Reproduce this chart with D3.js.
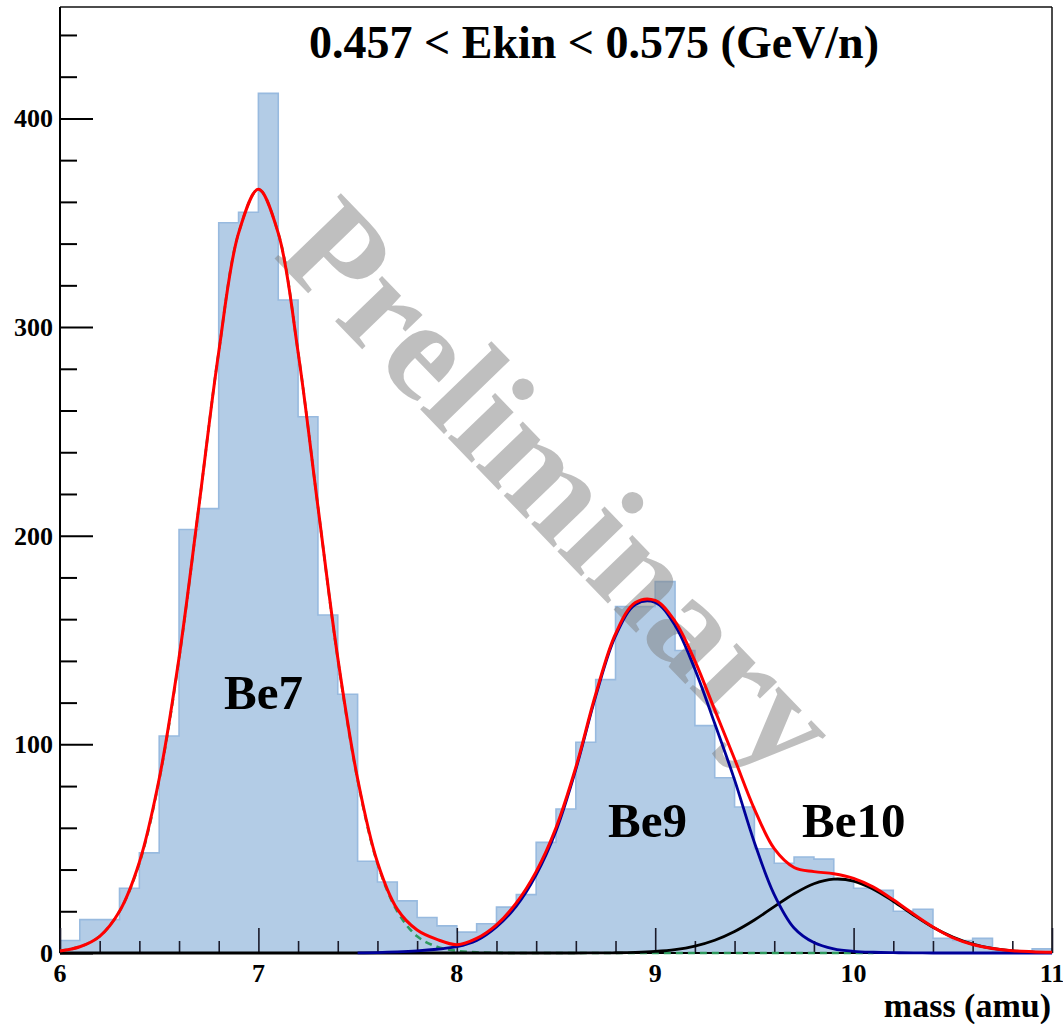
<!DOCTYPE html>
<html><head><meta charset="utf-8">
<script src="https://cdn.jsdelivr.net/npm/d3@7"></script>
<style>
body{margin:0;background:#fff}
svg{display:block}
text{font-family:"Liberation Serif","Times New Roman",serif;font-weight:bold}
</style>
</head><body><svg id="c" width="1063" height="1024"></svg>
<script>
// ---- data ----
const binLow = [6.0,6.1,6.2,6.3,6.4,6.5,6.6,6.7,6.8,6.9,7.0,7.1,7.2,7.3,7.4,7.5,7.6,7.7,7.8,7.9,
                8.0,8.1,8.2,8.3,8.4,8.5,8.6,8.7,8.8,8.9,9.0,9.1,9.2,9.3,9.4,9.5,9.6,9.7,9.8,9.9,
                10.0,10.1,10.2,10.3,10.4,10.5,10.6,10.7,10.8,10.9];
const binCounts = [6,16,16,31,48,104,203,213,350,355,412,313,257,162,124,44,34,25,17,13,
                   10,14,22,28,53,69,101,131,166,166,178,145,109,84,70,50,43,46,45,35,
                   31,30,20,21,7,6,7,1,0,2];
const binWidth = 0.1;

const fitMass = [6.0,6.1,6.2,6.3,6.4,6.5,6.6,6.7,6.8,6.9,7.0,7.1,7.2,7.3,7.4,7.5,7.6,7.7,7.8,7.9,
                 8.0,8.1,8.2,8.3,8.4,8.5,8.6,8.7,8.8,8.9,9.0,9.1,9.2,9.3,9.4,9.5,9.6,9.7,9.8,9.9,
                 10.0,10.1,10.2,10.3,10.4,10.5,10.6,10.7,10.8,10.9,11.0];
const totalFit = [1,3,8,20,43.5,83.5,141.5,214,288,345,366,345,288,214,141.5,83.5,43.5,21,11,6.5,
                  4,7,13.5,24,39,60,89,124,153,168,169,159,140,116.5,93,69,50,41,39,38,
                  35.8,31.6,25.5,18.8,12.5,7.4,4.1,2.2,1.1,0.6,0.3];
const be7Fit = [1,3,8,20,43,83,141,214,288,345,366,345,288,214,141,83,43,20,8,3,
                1,0.3,0.1,0,0,0,0,0,0,0,0,0,0,0,0,0,0,0,0,0,
                0,0,null,null,null,null,null,null,null,null,null];
const be9Fit = [null,null,null,null,null,null,null,null,null,null,null,null,null,null,null,0.1,0.2,0.5,1,1.8,
                3,6,12.5,22.5,37.5,58.5,88,123,152,167,168,157,136,110,83,53,28,12,5,2,
                0.8,0.35,0.15,0.05,0,0,0,0,0,0,0];
const be10Fit = [0,0,0,0,0,0,0,0,0,0,0,0,0,0,0,0,0,0,0,0,
                 0,0,0,0,0,0,0,0.04,0.11,0.3,0.73,1.6,3.3,6.1,10.3,15.8,22.2,28.4,33.2,35.4,
                 34.5,30.6,24.8,18.3,12.3,7.6,4.25,2.2,1.0,0.43,0.17];

const xTickValues = [6,7,8,9,10,11];
const yTickValues = [0,100,200,300,400];
const titleText = "0.457 < Ekin < 0.575 (GeV/n)";
const peakLabels = ["Be7","Be9","Be10"];
const xAxisTitle = "mass (amu)";
const watermark = "Preliminary";

// ---- layout ----
const L = 60, R = 1052, T = 7, B = 953;
const svg = d3.select("#c");
const x = d3.scaleLinear().domain([6, 11]).range([L, R]);
const y = d3.scaleLinear().domain([0, 453.4]).range([B, T]);

// histogram
const bins = binLow.map((m, i) => ({m, c: binCounts[i]}));
bins.push({m: binLow[binLow.length - 1] + binWidth, c: binCounts[binCounts.length - 1]});
const area = d3.area().x(d => x(d.m)).y0(y(0)).y1(d => y(d.c)).curve(d3.curveStepAfter);
svg.append("path").datum(bins).attr("d", area)
   .attr("fill", "#b3cce6").attr("stroke", "#98badf").attr("stroke-width", 1.6);

// watermark
svg.append("text").text(watermark)
   .attr("transform", `translate(${x(7.07)},${y(334)}) rotate(46)`)
   .attr("text-anchor", "start")
   .attr("font-size", 142)
   .attr("fill", "rgba(128,128,128,0.5)");

// frame
svg.append("line").attr("x1", L).attr("x2", R).attr("y1", T).attr("y2", T).attr("stroke", "#111").attr("stroke-width", 1.5);
svg.append("line").attr("x1", R).attr("x2", R).attr("y1", T).attr("y2", B).attr("stroke", "#111").attr("stroke-width", 1.5);

// y axis
const yAxis = d3.axisRight(y).tickValues(yTickValues).tickSize(33).tickFormat("");
const gy = svg.append("g").attr("transform", `translate(${L},0)`).call(yAxis);
gy.select(".domain").remove();
gy.selectAll(".tick line").attr("stroke", "#000").attr("stroke-width", 2);
const yMinor = d3.axisRight(y).tickValues(d3.range(0, 441, 20).filter(v => v % 100 !== 0)).tickSize(17).tickFormat("");
const gym = svg.append("g").attr("transform", `translate(${L},0)`).call(yMinor);
gym.select(".domain").remove();
gym.selectAll(".tick line").attr("stroke", "#000").attr("stroke-width", 2);
svg.append("line").attr("x1", L).attr("x2", L).attr("y1", T).attr("y2", B).attr("stroke", "#000").attr("stroke-width", 2);
svg.append("g").selectAll("text").data(yTickValues).join("text")
   .attr("x", L - 7).attr("y", d => y(d) + 9).attr("text-anchor", "end")
   .attr("font-size", 26).text(d => d);

// x axis
const xAxis = d3.axisTop(x).tickValues(xTickValues).tickSize(25).tickFormat("");
const gx = svg.append("g").attr("transform", `translate(0,${B})`).call(xAxis);
gx.select(".domain").remove();
gx.selectAll(".tick line").attr("stroke", "#1a1a2a").attr("stroke-width", 1.6);
const xMinor = d3.axisTop(x).tickValues(d3.range(6.2, 11, 0.2).filter(v => Math.abs(v - Math.round(v)) > 0.05)).tickSize(12).tickFormat("");
const gxm = svg.append("g").attr("transform", `translate(0,${B})`).call(xMinor);
gxm.select(".domain").remove();
gxm.selectAll(".tick line").attr("stroke", "#1a1a2a").attr("stroke-width", 1.6);
svg.append("line").attr("x1", L).attr("x2", R).attr("y1", B).attr("y2", B).attr("stroke", "#000").attr("stroke-width", 2);
svg.append("g").selectAll("text").data(xTickValues).join("text")
   .attr("x", d => x(d)).attr("y", B + 29).attr("text-anchor", "middle")
   .attr("font-size", 26).text(d => d);
svg.append("text").text(xAxisTitle).attr("x", R - 1).attr("y", 1017)
   .attr("text-anchor", "end").attr("font-size", 34);

// fit curves
function curvePts(vals) {
  return fitMass.map((m, i) => ({m, v: vals[i]}));
}
const line = d3.line().defined(d => d.v !== null).x(d => x(d.m)).y(d => y(d.v)).curve(d3.curveCatmullRom.alpha(0.5));
svg.append("path").attr("d", line(curvePts(be7Fit))).attr("fill", "none")
   .attr("stroke", "#2e9a5e").attr("stroke-width", 2.6).attr("stroke-dasharray", "7,5");
svg.append("path").attr("d", line(curvePts(be10Fit))).attr("fill", "none")
   .attr("stroke", "#000").attr("stroke-width", 2.8);
svg.append("path").attr("d", line(curvePts(be9Fit))).attr("fill", "none")
   .attr("stroke", "#000099").attr("stroke-width", 2.8);
svg.append("path").attr("d", line(curvePts(totalFit))).attr("fill", "none")
   .attr("stroke", "#ff0000").attr("stroke-width", 3);

// texts
svg.append("text").text(titleText).attr("x", 594).attr("y", 58)
   .attr("text-anchor", "middle").attr("font-size", 46);
const labelAnchors = [[6.827, 117], [8.762, 55.6], [9.74, 55.6]];
svg.append("g").selectAll("text").data(peakLabels).join("text")
   .attr("x", (d, i) => x(labelAnchors[i][0])).attr("y", (d, i) => y(labelAnchors[i][1]))
   .attr("font-size", 49).text(d => d);
</script>
</body></html>
